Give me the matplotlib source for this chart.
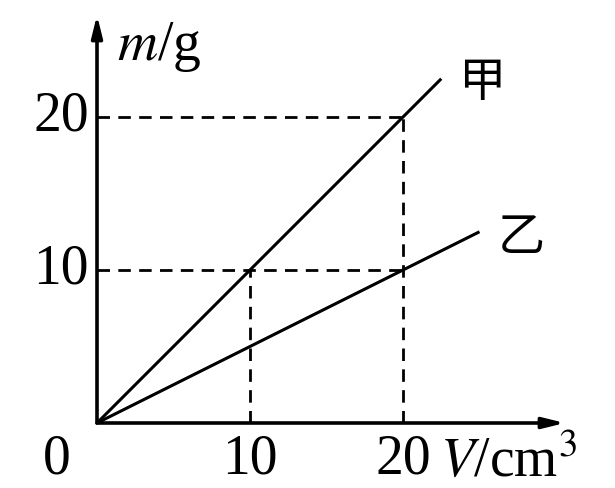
import matplotlib
matplotlib.use("Agg")
import matplotlib.pyplot as plt
import numpy as np

# data
x_ticks = [10, 20]
y_ticks = [10, 20]
jia_v = [0, 22.5]      # 甲: m = 1.0 * V
jia_m = [0, 22.5]
yi_v = [0, 25.0]       # 乙: m = 0.5 * V
yi_m = [0, 12.5]
guide_h = [(20, 20), (10, 20)]   # (m, V_end) horizontal dashed lines
guide_v = [(20, 20), (10, 10)]   # (V, m_end) vertical dashed lines

W, H = 615, 488
fig = plt.figure(figsize=(W/100, H/100), dpi=100)
ox, oy = 97, 423
xr, yt = 565, 15
sx, sy = 15.3, 15.3
ax = fig.add_axes([ox/W, (H-oy)/H, (xr-ox)/W, (oy-yt)/H])
xmax = (xr-ox)/sx
ymax = (oy-yt)/sy
ax.set_xlim(0, xmax)
ax.set_ylim(0, ymax)
ax.axis('off')

serif = 'Liberation Serif'
# axes with arrows
for xy in [(xmax, 0), (0, ymax)]:
    ax.annotate('', xy=xy, xytext=(0, 0), annotation_clip=False,
                arrowprops=dict(arrowstyle='-|>,head_length=1.3,head_width=0.32', lw=2.6,
                                color='black', shrinkA=0, shrinkB=0))

# lines
ax.plot(jia_v, jia_m, color='black', lw=2.2, solid_capstyle='butt', clip_on=False)
ax.plot(yi_v, yi_m, color='black', lw=2.2, solid_capstyle='butt', clip_on=False)

# guides
for m, vend in guide_h:
    ax.plot([0, vend], [m, m], color='black', lw=2, dashes=(4.5, 3))
for v, mend in guide_v:
    ax.plot([v, v], [0, mend], color='black', lw=2, dashes=(4.5, 3))

fs = 40
ty = -(460-oy)/sy
# tick labels
ax.text(-40/sx, ty, '0', fontsize=fs, family=serif, ha='center', va='center')
for t in x_ticks:
    ax.text(t, ty, str(t), fontsize=fs, family=serif, ha='center', va='center')
for t in y_ticks:
    ax.text(-8/sx, t, str(t), fontsize=fs, family=serif, ha='right', va='center')

ax.text(20/sx, (oy-60)/sy, r'$m$/g', fontsize=fs, family=serif, ha='left', va='baseline',
        math_fontfamily='stix')
ax.text((440-ox)/sx, (oy-476)/sy, r'$V$/cm$^3$', fontsize=fs, family=serif, ha='left',
        va='baseline', math_fontfamily='stix')

cjk = ['Noto Sans CJK SC', 'DejaVu Sans']
ax.text((482-ox)/sx, (oy-83)/sy, '甲', fontsize=34, family=cjk, ha='center', va='center',
        fontweight='light')
ax.text((521-ox)/sx, (oy-238)/sy, '乙', fontsize=34, family=cjk, ha='center', va='center',
        fontweight='light')

fig.savefig('out.png', dpi=100)
